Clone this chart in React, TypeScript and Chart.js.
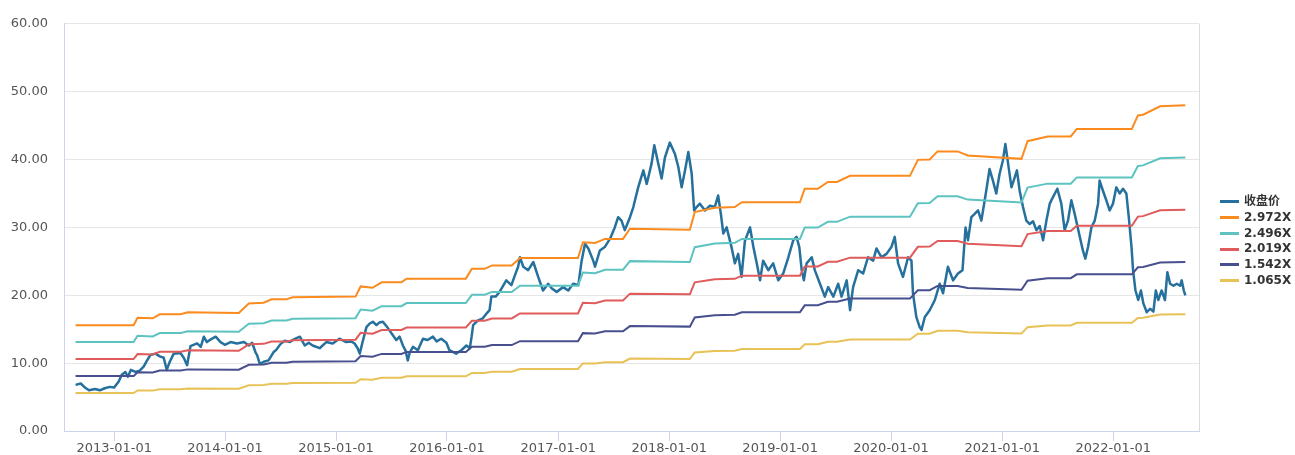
import React, { useEffect, useRef } from "react";
import { Chart, registerables } from "chart.js";

Chart.register(...registerables);

// ---------- data ----------
const priceDates = [
  "2012-08-27","2012-09-13","2012-09-27","2012-10-10","2012-10-30","2012-11-15","2012-12-01","2012-12-18","2013-01-01","2013-01-16",
  "2013-01-26","2013-02-07","2013-02-15","2013-02-25","2013-03-12","2013-03-26","2013-04-08","2013-04-18","2013-04-30","2013-05-17",
  "2013-05-31","2013-06-13","2013-06-23","2013-07-03","2013-07-16","2013-08-07","2013-08-18","2013-08-29","2013-09-09","2013-10-01",
  "2013-10-13","2013-10-23","2013-11-02","2013-11-15","2013-12-01","2013-12-17","2013-12-31","2014-01-19","2014-02-09","2014-03-04",
  "2014-03-20","2014-03-31","2014-04-11","2014-04-16","2014-04-25","2014-05-08","2014-05-24","2014-06-09","2014-06-19","2014-07-02",
  "2014-07-16","2014-08-02","2014-08-15","2014-09-04","2014-09-20","2014-10-03","2014-10-16","2014-11-08","2014-11-30","2014-12-21",
  "2015-01-12","2015-02-03","2015-02-20","2015-03-03","2015-03-13","2015-03-20","2015-03-28","2015-04-11","2015-04-21","2015-05-02",
  "2015-05-14","2015-05-24","2015-06-04","2015-06-20","2015-07-07","2015-07-18","2015-07-29","2015-08-09","2015-08-18","2015-08-25",
  "2015-08-31","2015-09-11","2015-09-27","2015-10-14","2015-10-29","2015-11-16","2015-11-28","2015-12-13","2015-12-30","2016-01-09",
  "2016-01-31","2016-02-17","2016-03-05","2016-03-16","2016-03-22","2016-03-27","2016-04-12","2016-04-28","2016-05-10","2016-05-20",
  "2016-05-26","2016-06-09","2016-06-22","2016-07-14","2016-07-31","2016-08-11","2016-08-22","2016-08-28","2016-09-08","2016-09-24",
  "2016-10-11","2016-10-27","2016-11-12","2016-11-29","2016-12-11","2016-12-27","2017-01-17","2017-02-03","2017-02-19","2017-03-08",
  "2017-03-19","2017-03-30","2017-04-10","2017-04-26","2017-05-02","2017-05-18","2017-06-03","2017-06-20","2017-07-06","2017-07-17",
  "2017-07-28","2017-08-08","2017-08-25","2017-09-05","2017-09-21","2017-10-08","2017-10-19","2017-11-04","2017-11-13","2017-11-26",
  "2017-12-07","2017-12-18","2018-01-03","2018-01-20","2018-01-31","2018-02-11","2018-02-22","2018-03-05","2018-03-16","2018-03-24",
  "2018-04-01","2018-04-12","2018-04-29","2018-05-15","2018-05-31","2018-06-11","2018-06-20","2018-06-28","2018-07-09","2018-07-25",
  "2018-08-05","2018-08-16","2018-08-27","2018-09-07","2018-09-24","2018-10-05","2018-10-16","2018-10-27","2018-11-06","2018-11-23",
  "2018-12-09","2018-12-26","2019-01-11","2019-01-28","2019-02-13","2019-02-24","2019-03-05","2019-03-13","2019-03-20","2019-03-29",
  "2019-04-15","2019-04-25","2019-05-12","2019-05-28","2019-06-08","2019-06-25","2019-07-11","2019-07-22","2019-08-08","2019-08-19",
  "2019-08-29","2019-09-15","2019-10-01","2019-10-17","2019-11-03","2019-11-14","2019-11-30","2019-12-17","2020-01-02","2020-01-13",
  "2020-01-24","2020-02-09","2020-02-26","2020-03-08","2020-03-13","2020-03-24","2020-04-04","2020-04-10","2020-04-21","2020-05-07",
  "2020-05-24","2020-06-09","2020-06-20","2020-07-06","2020-07-23","2020-08-08","2020-08-23","2020-09-02","2020-09-10","2020-09-21",
  "2020-10-02","2020-10-13","2020-10-24","2020-11-04","2020-11-09","2020-11-20","2020-12-01","2020-12-12","2020-12-23","2021-01-03",
  "2021-01-11","2021-01-20","2021-01-31","2021-02-11","2021-02-18","2021-02-27","2021-03-10","2021-03-21","2021-04-01","2021-04-12",
  "2021-04-23","2021-05-04","2021-05-15","2021-05-26","2021-06-06","2021-06-17","2021-07-01","2021-07-14","2021-07-25","2021-08-05",
  "2021-08-16","2021-08-27","2021-09-13","2021-09-23","2021-10-01","2021-10-10","2021-10-21","2021-11-01","2021-11-12","2021-11-17",
  "2021-11-28","2021-12-09","2021-12-20","2021-12-31","2022-01-11","2022-01-22","2022-02-02","2022-02-13","2022-02-21","2022-03-02",
  "2022-03-07","2022-03-15","2022-03-24","2022-04-02","2022-04-10","2022-04-21","2022-05-02","2022-05-13","2022-05-21","2022-05-29",
  "2022-06-09","2022-06-20","2022-06-28","2022-07-07","2022-07-18","2022-07-29","2022-08-09","2022-08-14","2022-08-21","2022-08-26",
];

const priceValues = [
  6.8,7.0,6.4,6.0,6.2,6.0,6.3,6.5,6.4,7.3,
  8.3,8.7,8.0,9.0,8.7,8.9,9.5,10.3,11.2,11.4,
  11.0,10.8,9.0,10.2,11.4,11.5,10.8,9.7,12.5,12.9,
  12.4,13.9,13.1,13.5,13.9,13.1,12.7,13.1,12.9,13.1,
  12.6,13.0,11.6,11.2,9.9,10.2,10.4,11.6,12.0,12.8,
  13.3,13.1,13.5,13.9,12.6,13.0,12.6,12.2,13.1,12.9,
  13.6,13.1,13.2,12.9,12.2,11.4,12.9,15.3,15.8,16.1,
  15.6,16.0,16.1,15.2,14.1,13.4,13.9,12.6,11.8,10.4,
  11.5,12.4,11.9,13.6,13.4,13.9,13.2,13.6,13.0,11.9,
  11.4,11.9,12.6,12.2,13.9,15.6,16.3,16.6,17.3,17.8,
  19.8,19.8,20.5,22.2,21.5,22.9,24.2,25.6,24.2,23.7,
  24.9,22.7,20.7,21.7,21.0,20.5,21.2,20.7,21.7,21.5,
  25.1,27.6,26.9,25.1,24.2,26.6,27.1,28.3,30.0,31.5,
  31.0,29.6,31.5,33.0,35.9,38.4,36.4,39.4,42.1,39.4,
  37.2,40.3,42.5,40.8,38.9,35.9,38.4,41.1,37.9,32.5,
  33.0,33.5,32.5,33.2,33.0,34.7,32.0,29.1,30.0,27.1,
  24.7,26.1,22.7,28.0,30.0,27.1,24.7,22.2,25.1,23.7,
  24.7,22.2,23.2,25.6,28.1,28.6,27.1,23.7,22.2,24.7,
  25.6,23.7,21.7,19.8,21.2,19.8,21.7,19.8,22.2,17.8,
  21.2,23.7,23.2,25.6,25.1,26.9,25.6,26.1,27.1,28.6,
  24.7,22.7,25.6,25.1,20.3,16.8,15.3,14.9,16.8,17.8,
  19.3,21.7,20.3,24.2,22.2,23.2,23.7,30.0,28.1,31.5,
  32.0,32.5,31.0,34.0,35.4,38.6,36.9,35.0,37.9,39.9,
  42.3,39.4,35.9,37.4,38.4,35.4,33.0,31.0,30.5,30.9,
  29.6,30.2,28.1,31.0,33.5,34.5,35.7,33.5,29.6,31.0,
  34.0,32.0,28.6,26.6,25.4,27.1,30.0,31.0,33.5,36.9,
  35.4,34.0,32.5,33.5,35.9,35.0,35.7,35.0,31.5,27.1,
  23.7,20.7,19.3,20.7,18.8,17.5,18.0,17.6,20.7,19.3,
  20.7,19.3,23.4,21.7,21.4,21.7,21.4,22.2,20.7,20.0,
];

// base per-share value used for the band multiples
const baseDates = [
  "2012-08-27","2013-03-06","2013-03-19","2013-05-08","2013-05-31","2013-08-08","2013-08-31","2014-02-15","2014-03-20","2014-05-08",
  "2014-06-03","2014-07-22","2014-08-11","2015-03-06","2015-03-23","2015-05-01","2015-05-31","2015-08-04","2015-08-21","2016-03-03",
  "2016-03-23","2016-05-04","2016-05-28","2016-08-01","2016-08-28","2017-03-07","2017-03-23","2017-05-02","2017-06-04","2017-08-02",
  "2017-08-25","2018-03-10","2018-03-26","2018-05-31","2018-08-05","2018-08-28","2019-03-07","2019-03-23","2019-05-05","2019-06-07",
  "2019-07-07","2019-08-19","2020-03-03","2020-03-29","2020-05-07","2020-06-02","2020-08-07","2020-09-09","2021-03-05","2021-03-25",
  "2021-05-30","2021-08-14","2021-09-03","2022-03-03","2022-03-23","2022-04-09","2022-06-04","2022-08-26",
];
const baseValues = [
  5.249,5.249,5.619,5.585,5.787,5.787,5.888,5.855,6.326,6.359,
  6.528,6.528,6.629,6.662,7.167,7.100,7.369,7.369,7.554,7.554,
  8.042,8.042,8.210,8.210,8.580,8.580,9.354,9.320,9.522,9.522,
  10.027,9.976,10.851,11.070,11.104,11.339,11.339,12.012,12.012,12.349,
  12.349,12.651,12.651,13.442,13.459,13.863,13.863,13.661,13.493,14.367,
  14.603,14.603,14.973,14.973,15.646,15.680,16.100,16.151,
];

const priceLabel = "收盘价";
const bandMultiples = [2.972, 2.496, 2.019, 1.542, 1.065];
const bandLabels = ["2.972X", "2.496X", "2.019X", "1.542X", "1.065X"];
const priceColor = "#25709c";
const bandColors = ["#fb8b1e", "#5dc3c1", "#e05b5b", "#474f8f", "#e8c257"];

const xTickLabels = [
  "2013-01-01","2014-01-01","2015-01-01","2016-01-01","2017-01-01",
  "2018-01-01","2019-01-01","2020-01-01","2021-01-01","2022-01-01",
];
const xRange = ["2012-07-20", "2022-10-10"];
const yRange = [0, 60];
const yStep = 10;

const FONT = '"DejaVu Sans", "Noto Sans CJK SC", sans-serif';

const framePlugin = {
  id: "frame",
  beforeDatasetsDraw(chart: any) {
    const { ctx, chartArea } = chart;
    ctx.save();
    ctx.strokeStyle = "#dcdcdc";
    ctx.lineWidth = 1;
    ctx.beginPath();
    ctx.moveTo(Math.round(chartArea.right) + 0.5, chartArea.top);
    ctx.lineTo(Math.round(chartArea.right) + 0.5, chartArea.bottom);
    ctx.stroke();
    ctx.restore();
  },
};

export default function App() {
  const canvasRef = useRef<HTMLCanvasElement>(null);

  useEffect(() => {
    const canvas = canvasRef.current;
    if (!canvas) return;
    const priceData = priceDates.map((d, i) => ({ x: Date.parse(d), y: priceValues[i] }));
    const bandSets = bandMultiples.map((m, k) => ({
      label: bandLabels[k],
      data: baseDates.map((d, i) => ({ x: Date.parse(d), y: +(m * baseValues[i]).toFixed(2) })),
      borderColor: bandColors[k],
      backgroundColor: bandColors[k],
      borderWidth: 2,
      pointRadius: 0,
      tension: 0,
      order: 0,
    }));
    const chart = new Chart(canvas, {
      type: "line",
      data: {
        datasets: [
          {
            label: priceLabel,
            data: priceData,
            borderColor: priceColor,
            backgroundColor: priceColor,
            borderWidth: 2.5,
            borderJoinStyle: "round",
            pointRadius: 0,
            tension: 0,
            order: 1,
          },
          ...bandSets,
        ],
      },
      options: {
        animation: false,
        responsive: false,
        devicePixelRatio: 1,
        layout: { padding: { left: 0, top: 23, right: 96, bottom: 0 } },
        plugins: { legend: { display: false }, tooltip: { enabled: false } },
        scales: {
          x: {
            type: "linear",
            min: Date.parse(xRange[0]),
            max: Date.parse(xRange[1]),
            afterBuildTicks: (scale: any) => {
              scale.ticks = xTickLabels.map((s) => ({ value: Date.parse(s) }));
            },
            afterFit: (scale: any) => {
              scale.height = 24;
            },
            ticks: {
              autoSkip: false,
              maxRotation: 0,
              padding: 0,
              color: "#555",
              font: { family: FONT, size: 13 },
              callback: (_v: any, i: number) => xTickLabels[i],
            },
            grid: {
              drawOnChartArea: false,
              drawTicks: true,
              tickLength: 10,
              color: "#cdd3ea",
            },
            border: { display: true, color: "#cdd3ea", width: 1 },
          },
          y: {
            type: "linear",
            min: yRange[0],
            max: yRange[1],
            afterFit: (scale: any) => {
              scale.width = 64;
            },
            ticks: {
              stepSize: yStep,
              padding: 16,
              color: "#555",
              font: { family: FONT, size: 13 },
              callback: (v: any) => Number(v).toFixed(2),
            },
            grid: { color: "#e6e6e6", drawTicks: false, lineWidth: 1 },
            border: { display: true, color: "#cdd3ea", width: 1 },
          },
        },
      },
      plugins: [framePlugin],
    });
    return () => chart.destroy();
  }, []);

  const legendItems = [priceLabel, ...bandLabels];
  const legendColors = [priceColor, ...bandColors];

  return (
    <div style={{ position: "fixed", left: 0, top: 0, width: 1295, height: 455, background: "#fff" }}>
      <canvas ref={canvasRef} width={1295} height={455} style={{ display: "block", width: 1295, height: 455 }} />
      <div
        style={{
          position: "absolute",
          left: 1220,
          top: 194,
          fontFamily: FONT,
          fontWeight: "bold",
          fontSize: 12,
          color: "#333",
        }}
      >
        {legendItems.map((t, i) => (
          <div key={t} style={{ display: "flex", alignItems: "center", height: 15.75, whiteSpace: "nowrap" }}>
            <span style={{ display: "inline-block", width: 19, height: 3, background: legendColors[i], marginRight: 5 }} />
            <span style={{ lineHeight: "15.75px" }}>{t}</span>
          </div>
        ))}
      </div>
    </div>
  );
}
